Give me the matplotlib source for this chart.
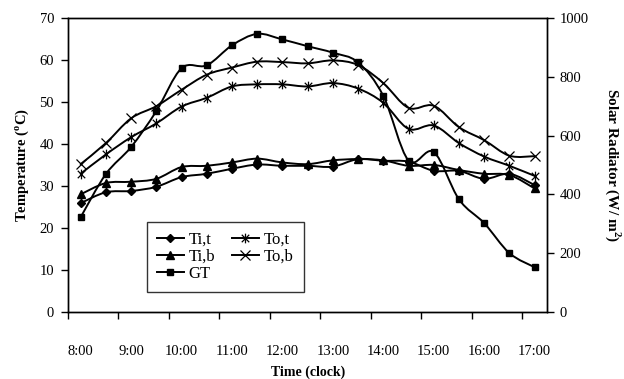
import matplotlib
matplotlib.use("Agg")
import matplotlib.pyplot as plt
import numpy as np
from matplotlib.path import Path
from matplotlib.patches import PathPatch
from matplotlib.lines import Line2D

plt.rcParams["font.family"] = ["Liberation Serif", "DejaVu Serif"]
plt.rcParams["mathtext.fontset"] = "custom"
plt.rcParams["mathtext.rm"] = "Liberation Serif"
plt.rcParams["mathtext.bf"] = "Liberation Serif:bold"

# 8:00 .. 17:00 every half hour
times = ["8:00", "8:30", "9:00", "9:30", "10:00", "10:30", "11:00", "11:30",
         "12:00", "12:30", "13:00", "13:30", "14:00", "14:30", "15:00",
         "15:30", "16:00", "16:30", "17:00"]
hour_labels = ["8:00", "9:00", "10:00", "11:00", "12:00", "13:00", "14:00",
               "15:00", "16:00", "17:00"]

ti_t = [25.9, 28.5, 28.8, 29.8, 32.1, 32.9, 34.1, 35.1, 34.8, 34.8,
        34.6, 36.4, 36.0, 35.8, 33.6, 33.6, 31.7, 32.9, 30.2]
ti_b = [28.0, 30.7, 31.0, 31.7, 34.5, 34.8, 35.6, 36.5, 35.6, 35.2,
        36.1, 36.4, 36.1, 34.8, 35.0, 33.8, 32.9, 32.6, 29.4]
to_t = [32.9, 37.5, 41.6, 44.9, 48.9, 51.0, 53.7, 54.2, 54.2, 53.7,
        54.5, 53.2, 49.8, 43.6, 44.4, 40.2, 37.0, 34.8, 32.4]
to_b = [35.2, 40.2, 46.1, 49.0, 52.9, 56.5, 58.2, 59.6, 59.5, 59.2,
        59.9, 58.8, 54.5, 48.6, 49.1, 44.0, 40.9, 37.2, 37.1]
# solar radiation (W/m2), right axis
gt = [322, 469, 561, 683, 829, 839, 907, 946, 927, 904,
      882, 849, 735, 515, 544, 383, 302, 200, 152]

# excel style star marker: x plus vertical bar
star = Path([(-1, -1), (1, 1), (-1, 1), (1, -1), (0, -1.3), (0, 1.3)],
            [Path.MOVETO, Path.LINETO, Path.MOVETO, Path.LINETO,
             Path.MOVETO, Path.LINETO])

lw = 1.4


def smooth_line(ax, xs, ys):
    # excel "smoothed line": bezier segments through the data points
    p = np.column_stack([xs, ys]).astype(float)
    n = len(p)
    verts = [p[0]]
    codes = [Path.MOVETO]
    for i in range(n - 1):
        p0 = p[max(i - 1, 0)]
        p3 = p[min(i + 2, n - 1)]
        c1 = p[i] + (p[i + 1] - p0) / 6
        c2 = p[i + 1] - (p3 - p[i]) / 6
        verts += [c1, c2, p[i + 1]]
        codes += [Path.CURVE4] * 3
    ax.add_patch(PathPatch(Path(verts, codes), fill=False, edgecolor="black",
                           lw=lw, capstyle="round", joinstyle="round"))


x = np.arange(len(times))

fig = plt.figure(figsize=(6.24, 3.79), dpi=100)
ax = fig.add_axes([0.109, 0.177, 0.768, 0.7755])
ax2 = ax.twinx()

styles = [
    (ax, ti_t, dict(marker="D", ms=4.5), "Ti,t"),
    (ax, ti_b, dict(marker="^", ms=6), "Ti,b"),
    (ax2, gt, dict(marker="s", ms=5), "GT"),
    (ax, to_t, dict(marker=star, ms=7, mew=0.9), "To,t"),
    (ax, to_b, dict(marker="x", ms=7, mew=0.9), "To,b"),
]
handles = []
for a, ys, mk, name in styles:
    smooth_line(a, x, ys)
    a.plot(x, ys, ls="none", color="black", zorder=3, **mk)
    handles.append(Line2D([], [], color="black", lw=lw, **mk))

ax.set_xlim(-0.5, len(times) - 0.5)
ax.set_ylim(0, 70)
ax.set_yticks(np.arange(0, 71, 10))
ax2.set_ylim(0, 1000)
ax2.set_yticks(np.arange(0, 1001, 200))

# ticks between categories, labels on the hours
ax.set_xticks(np.arange(-0.5, len(times) - 1, 2))
ax.set_xticklabels([])
ax.set_xticks(np.arange(0, len(times), 2), minor=True)
ax.set_xticklabels(hour_labels, minor=True)
ax.tick_params(axis="x", which="major", direction="out", length=5, width=1)
ax.tick_params(axis="x", which="minor", length=0, pad=24, labelsize=10.5)
ax.tick_params(axis="y", direction="out", length=5, width=1, pad=5,
               labelsize=10.5)
ax2.tick_params(axis="y", direction="out", length=5, width=1, pad=4,
                labelsize=10.5)

for a in (ax, ax2):
    for s in a.spines.values():
        s.set_linewidth(1)

ax.set_xlabel("Time (clock)", fontweight="bold", fontsize=10, labelpad=5)
ax.set_ylabel(r"Temperature ($^{\mathbf{o}}$C)", fontweight="bold",
              fontsize=10.5, labelpad=6)
ax2.set_ylabel(r"Solar Radiator (W/ m$^{\mathbf{2}}$)", fontweight="bold",
               fontsize=11, rotation=270, labelpad=24)

leg = ax.legend(handles, ["Ti,t", "Ti,b", "GT", "To,t", "To,b"],
                ncol=2, loc="upper left", bbox_to_anchor=(0.165, 0.306),
                fontsize=12, frameon=True, fancybox=False, edgecolor="black",
                handlelength=1.6, handletextpad=0.3, columnspacing=1.0,
                labelspacing=0.05, borderpad=0.6, borderaxespad=0)
leg.get_frame().set_linewidth(1)

fig.savefig("out.png", dpi=100)
